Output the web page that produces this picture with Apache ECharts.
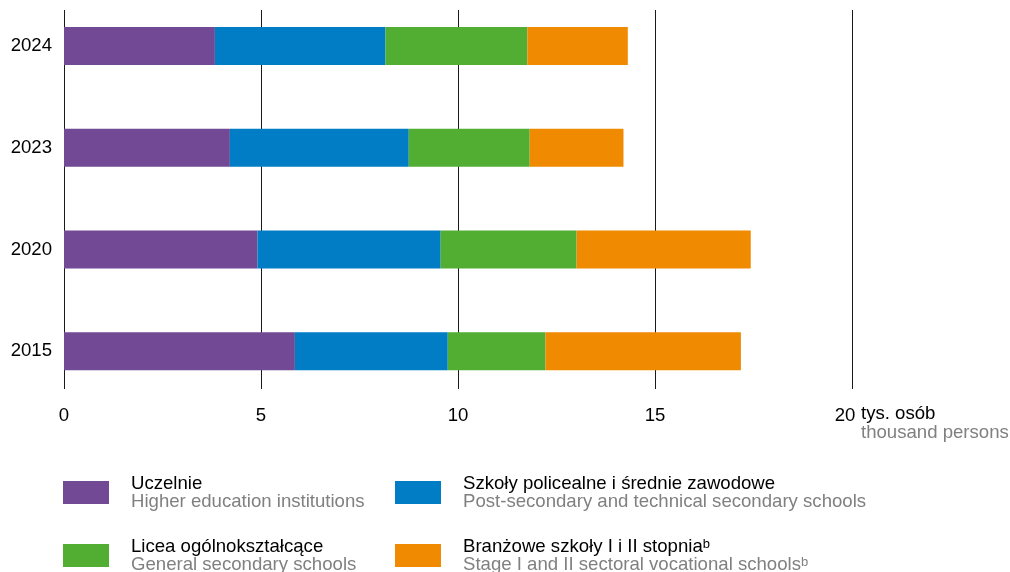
<!DOCTYPE html>
<html>
<head>
<meta charset="utf-8">
<script src="https://cdn.jsdelivr.net/npm/echarts@6/dist/echarts.min.js"></script>
<style>
html,body{margin:0;padding:0;background:#fff;}
#chart{width:1010px;height:572px;}
</style>
</head>
<body>
<div id="chart"></div>
<script>
// Data (thousand persons)
var years = ['2015', '2020', '2023', '2024'];
var uczelnie = [5.86, 4.91, 4.21, 3.83];
var policealne = [3.88, 4.65, 4.54, 4.33];
var licea = [2.48, 3.45, 3.07, 3.60];
var branzowe = [4.96, 4.42, 2.38, 2.55];
var xTicks = [0, 5, 10, 15, 20];

var seriesNamesPl = ['Uczelnie', 'Szkoły policealne i średnie zawodowe', 'Licea ogólnokształcące', 'Branżowe szkoły I i II stopnia'];
var seriesNamesEn = ['Higher education institutions', 'Post-secondary and technical secondary schools', 'General secondary schools', 'Stage I and II sectoral vocational schools'];
var footnote = [false, false, false, true];
var colors = ['#724995', '#007dc5', '#52ae32', '#f08a00'];
var unitPl = 'tys. osób';
var unitEn = 'thousand persons';

var FONT = "'Liberation Sans', Arial, sans-serif";
var FS = 18.6;
var chart = echarts.init(document.getElementById('chart'), null, {renderer: 'canvas'});

var values = [uczelnie, policealne, licea, branzowe];
var series = values.map(function (arr, i) {
  return {
    name: seriesNamesPl[i],
    type: 'bar',
    stack: 'total',
    xAxisIndex: 0,
    yAxisIndex: 0,
    barWidth: 38,
    itemStyle: {color: colors[i]},
    emphasis: {disabled: true},
    data: arr
  };
});

var legendPos = [[63, 474], [395, 474], [63, 537], [395, 537]];
var legends = seriesNamesPl.map(function (n, i) {
  return {
    data: [n],
    left: legendPos[i][0],
    top: legendPos[i][1],
    padding: 0,
    icon: 'rect',
    itemWidth: 46,
    itemHeight: 23,
    selectedMode: false,
    formatter: function (name) {
      var k = seriesNamesPl.indexOf(name);
      var s1 = '{a|' + seriesNamesPl[k] + '}' + (footnote[k] ? '{s|b}' : '');
      var s2 = '{b|' + seriesNamesEn[k] + '}' + (footnote[k] ? '{t|b}' : '');
      return s1 + '\n' + s2;
    },
    textStyle: {
      fontFamily: FONT,
      rich: {
        a: {fontFamily: FONT, fontSize: FS, color: '#000', lineHeight: 18, padding: [0, 0, 0, 17]},
        b: {fontFamily: FONT, fontSize: FS, color: '#808080', lineHeight: 18, padding: [0, 0, 0, 17]},
        s: {fontFamily: FONT, fontSize: 13, color: '#000', lineHeight: 10, verticalAlign: 'top'},
        t: {fontFamily: FONT, fontSize: 13, color: '#808080', lineHeight: 10, verticalAlign: 'top'}
      }
    }
  };
});

var option = {
  animation: false,
  backgroundColor: '#fff',
  textStyle: {fontFamily: FONT},
  legend: legends,
  grid: [
    {left: 64, width: 788, top: -5, height: 407, containLabel: false, outerBoundsMode: 'none'},
    {left: 64, width: 788, top: 10, height: 379, containLabel: false, outerBoundsMode: 'none'}
  ],
  xAxis: [
    {type: 'value', gridIndex: 0, min: 0, max: 20, show: false},
    {
      type: 'value', gridIndex: 1, min: xTicks[0], max: xTicks[xTicks.length - 1], interval: 5,
      axisLine: {show: false},
      axisTick: {show: false},
      splitLine: {show: true, lineStyle: {color: '#1a1a1a', width: 1}},
      axisLabel: {
        fontFamily: FONT, fontSize: FS, color: '#000', margin: 17,
        formatter: function (v) {
          if (v === 20) return '{n|20}{sp| }';
          return '{n|' + v + '}';
        },
        rich: {
          n: {fontFamily: FONT, fontSize: FS, color: '#000'},
          sp: {fontFamily: FONT, fontSize: FS, width: 14}
        }
      },
      name: '{a|' + unitPl + '}\n{b|' + unitEn + '}',
      nameLocation: 'end',
      nameGap: 9,
      nameMoveOverlap: false,
      nameTextStyle: {
        align: 'left',
        verticalAlign: 'top',
        padding: [15, 0, 0, 0],
        rich: {
          a: {fontFamily: FONT, fontSize: FS, color: '#000', lineHeight: 19},
          b: {fontFamily: FONT, fontSize: FS, color: '#808080', lineHeight: 19}
        }
      }
    }
  ],
  yAxis: [
    {
      type: 'category', gridIndex: 0, data: years,
      axisLine: {show: false},
      axisTick: {show: false},
      axisLabel: {fontFamily: FONT, fontSize: FS, color: '#000', margin: 12}
    },
    {type: 'value', gridIndex: 1, show: false, min: 0, max: 1}
  ],
  series: series
};
chart.setOption(option);
</script>
</body>
</html>
